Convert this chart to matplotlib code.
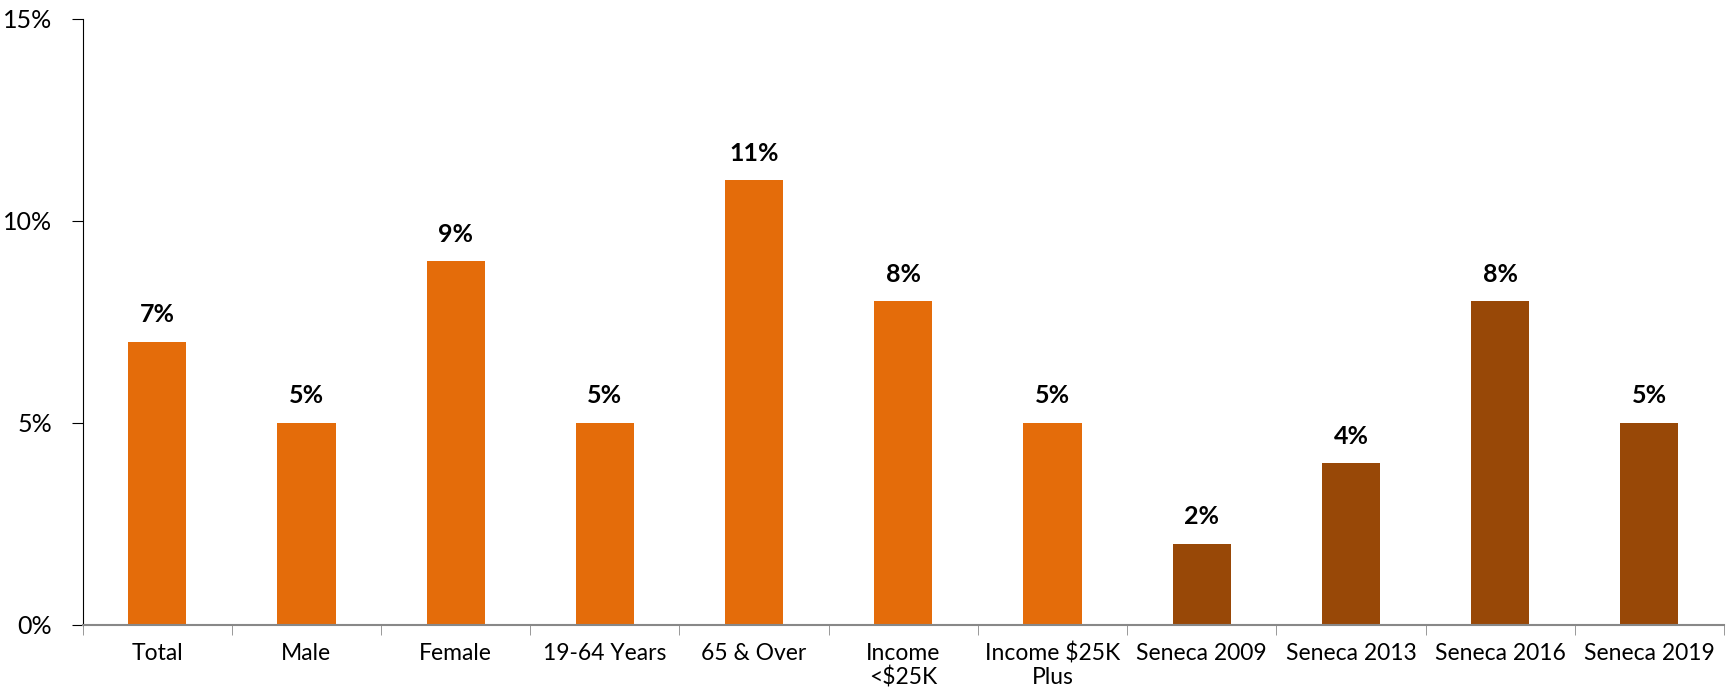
import matplotlib
matplotlib.use('Agg')
import matplotlib.pyplot as plt
import numpy as np

categories = ['Total', 'Male', 'Female', '19-64 Years', '65 & Over',
              'Income\n<$25K', 'Income $25K\nPlus', 'Seneca 2009',
              'Seneca 2013', 'Seneca 2016', 'Seneca 2019']
values = [7, 5, 9, 5, 11, 8, 5, 2, 4, 8, 5]
bar_colors = ['#E46C0A'] * 7 + ['#984807'] * 4

plt.rcParams['font.family'] = ['Lato', 'DejaVu Sans']

fig = plt.figure(figsize=(17.27, 6.95), dpi=100)
ax = fig.add_axes([82.6 / 1727, 1 - 624.5 / 695, (1724 - 82.6) / 1727, (624.5 - 18.5) / 695])

x = np.arange(len(categories))
ax.bar(x, values, width=0.39, color=bar_colors, zorder=2)

# value labels above each bar
for xi, v in zip(x, values):
    ax.annotate(f'{v}%', (xi, v), xytext=(0, 11), textcoords='offset points',
                ha='center', va='bottom', fontsize=18, fontweight='bold')

ax.set_xlim(-0.5, len(categories) - 0.5)
ax.set_ylim(0, 15)
ax.set_yticks([0, 5, 10, 15])
ax.set_yticklabels(['0%', '5%', '10%', '15%'], fontsize=18)

# category labels centred, ticks on the boundaries
ax.set_xticks(x)
ax.set_xticklabels(categories, fontsize=16.5, linespacing=1.15)
ax.tick_params(axis='x', length=0, pad=13)
ax.set_xticks(np.arange(-0.5, len(categories)), minor=True)
ax.tick_params(axis='x', which='minor', length=7, color='#888888', direction='out')
ax.tick_params(axis='y', length=8, direction='out', pad=14)

for s in ['top', 'right']:
    ax.spines[s].set_visible(False)
ax.spines['bottom'].set_color('#888888')
ax.spines['bottom'].set_linewidth(1.5)
ax.spines['left'].set_color('black')
ax.spines['left'].set_linewidth(0.8)

fig.savefig('out.png', dpi=100)
